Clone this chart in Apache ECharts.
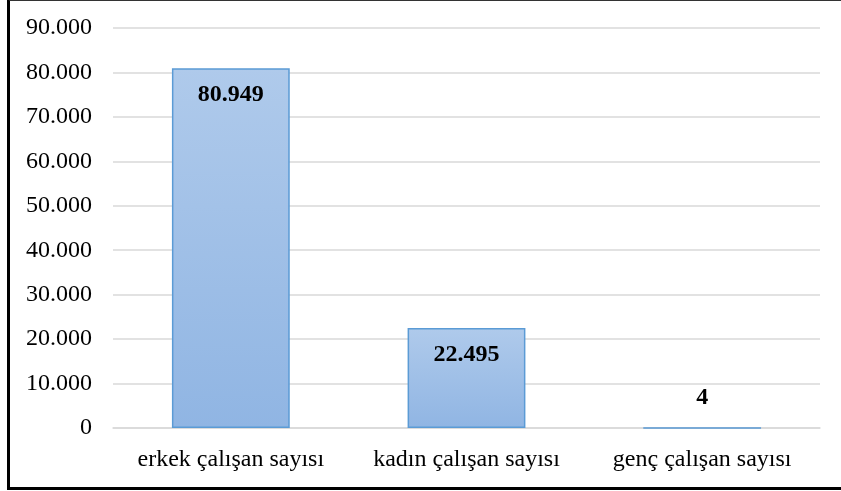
<!DOCTYPE html>
<html>
<head>
<meta charset="utf-8">
<script src="https://cdn.jsdelivr.net/npm/echarts@6/dist/echarts.min.js"></script>
<style>
  html, body { margin: 0; padding: 0; background: #fff; }
  #chart { width: 841px; height: 491px; }
  #frame {
    position: absolute; left: 7px; top: -1px; width: 900px; height: 486px;
    border-left: 3px solid #000; border-top: 2px solid #333; border-bottom: 3px solid #000;
    pointer-events: none;
  }
</style>
</head>
<body>
<div id="chart"></div>
<div id="frame"></div>
<script>
// kategoriler ve değerler
const categories = ['erkek çalışan sayısı', 'kadın çalışan sayısı', 'genç çalışan sayısı'];
const values = [80949, 22495, 4];
const yMax = 90000;
const yStep = 10000;

// 80949 -> "80.949"
function trNum(v) {
  return String(v).replace(/\B(?=(\d{3})+(?!\d))/g, '.');
}

const chart = echarts.init(document.getElementById('chart'));

const barData = values.map(function (v) {
  // çok küçük sütunlarda etiket sütunun üstünde kalıyor
  if (v < 2000) {
    return { value: v, label: { position: 'top', distance: 17 } };
  }
  return v;
});

const option = {
  animation: false,
  textStyle: { fontFamily: '"Liberation Serif", "Times New Roman", serif' },
  grid: { left: 113, right: 21, top: 28, bottom: 63 },
  xAxis: {
    type: 'category',
    data: categories,
    axisTick: { show: false },
    axisLine: { lineStyle: { color: '#d9d9d9', width: 1.5 } },
    axisLabel: { color: '#000', fontSize: 24, margin: 20, interval: 0, hideOverlap: false }
  },
  yAxis: {
    type: 'value',
    min: 0,
    max: yMax,
    interval: yStep,
    axisLine: { show: false },
    axisTick: { show: false },
    axisLabel: { color: '#000', fontSize: 24, margin: 21, formatter: trNum },
    splitLine: { lineStyle: { color: '#d9d9d9', width: 1.5 } }
  },
  series: [
    {
      type: 'bar',
      barWidth: '50%',
      data: barData,
      itemStyle: {
        color: new echarts.graphic.LinearGradient(0, 0, 0, 1, [
          { offset: 0, color: '#afcaeb' },
          { offset: 1, color: '#90b5e3' }
        ]),
        borderColor: '#5b9bd5',
        borderWidth: 1.5
      },
      label: {
        show: true,
        position: 'insideTop',
        distance: 15,
        color: '#000',
        fontSize: 24,
        fontWeight: 'bold',
        formatter: function (p) { return trNum(p.value); }
      }
    }
  ]
};

chart.setOption(option);
</script>
</body>
</html>
